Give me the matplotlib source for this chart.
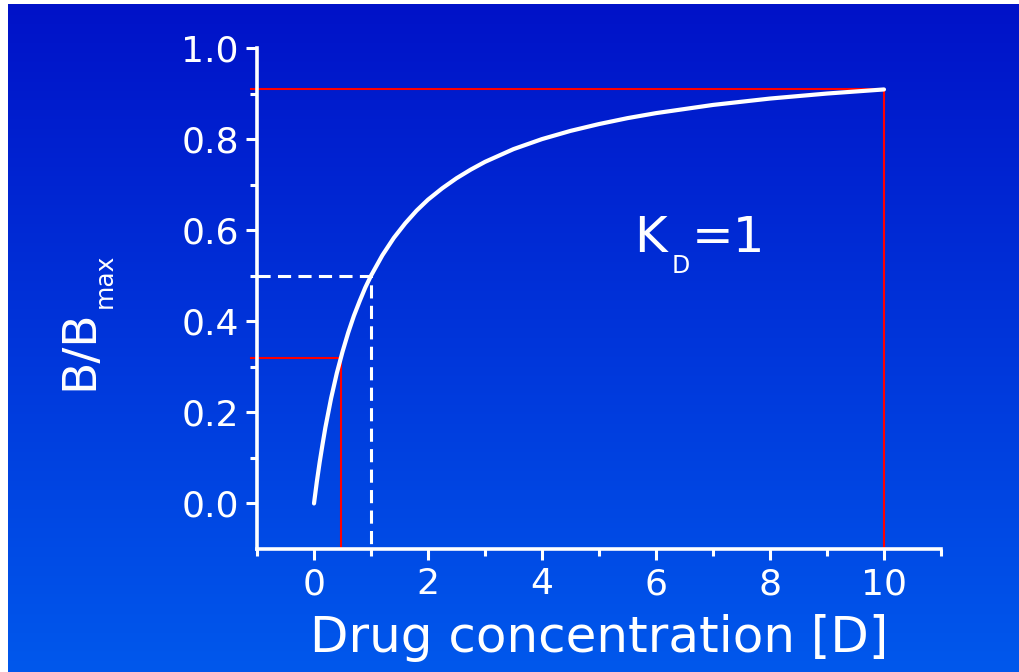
import numpy as np
from matplotlib import pyplot as plt
from matplotlib.ticker import FixedLocator

# binding curve
conc = [0, 0.05, 0.1, 0.15, 0.2, 0.3, 0.4, 0.5, 0.6, 0.7, 0.8, 0.9, 1.0,
        1.2, 1.4, 1.6, 1.8, 2.0, 2.25, 2.5, 2.75, 3.0, 3.5, 4.0, 4.5, 5.0,
        5.5, 6.0, 7.0, 8.0, 9.0, 10.0]
bound = [0, 0.048, 0.091, 0.13, 0.167, 0.231, 0.286, 0.333, 0.375, 0.412,
         0.444, 0.474, 0.5, 0.545, 0.583, 0.615, 0.643, 0.667, 0.692, 0.714,
         0.733, 0.75, 0.778, 0.8, 0.818, 0.833, 0.846, 0.857, 0.875, 0.889,
         0.9, 0.909]

# guide lines
red_low = (0.47, 0.32)
red_high = (10.0, 0.909)
kd_point = (1.0, 0.5)

x_ticks = [0, 2, 4, 6, 8, 10]
x_minor = [-1, 1, 3, 5, 7, 9, 11]
y_ticks = [0.0, 0.2, 0.4, 0.6, 0.8, 1.0]
y_minor = [0.1, 0.3, 0.5, 0.7, 0.9]

W, H = 1019, 672
fig = plt.figure(figsize=(W / 100, H / 100), dpi=100, facecolor='white')

# blue gradient background (white strip left and top)
bg = fig.add_axes([8 / W, 0, 1 - 8 / W, 1 - 4 / H])
top = np.array([0, 18, 200]) / 255
bot = np.array([0, 88, 236]) / 255
t = np.linspace(0, 1, 256)[:, None]
grad = top[None, None, :] * (1 - t[:, :, None]) + bot[None, None, :] * t[:, :, None]
bg.imshow(grad, aspect='auto', extent=[0, 1, 0, 1])
bg.set_axis_off()

ax = fig.add_axes([257 / W, (H - 549) / H, (941 - 257) / W, (549 - 48) / H])
ax.set_facecolor('none')
ax.set_xlim(-1, 11)
ax.set_ylim(-0.1, 1.0)

for s in ['top', 'right']:
    ax.spines[s].set_visible(False)
for s in ['left', 'bottom']:
    ax.spines[s].set_color('white')
    ax.spines[s].set_linewidth(2.6)
    ax.spines[s].set_capstyle('projecting')

ax.xaxis.set_major_locator(FixedLocator(x_ticks))
ax.xaxis.set_minor_locator(FixedLocator(x_minor))
ax.yaxis.set_major_locator(FixedLocator(y_ticks))
ax.yaxis.set_minor_locator(FixedLocator(y_minor))
ax.set_yticklabels([f'{v:.1f}' for v in y_ticks])
ax.tick_params(which='major', direction='out', length=8, width=2.2, color='white',
               labelcolor='white', labelsize=26, pad=5)
ax.tick_params(which='minor', direction='out', length=5, width=2.2, color='white')

# red guide lines
ax.plot([-1.1, red_low[0], red_low[0]], [red_low[1], red_low[1], -0.1],
        color='#ff0000', lw=1.5, clip_on=False, zorder=2)
ax.plot([-1.1, red_high[0], red_high[0]], [red_high[1], red_high[1], -0.1],
        color='#ff0000', lw=1.5, clip_on=False, zorder=2)

# dashed KD lines
ax.plot([-1, kd_point[0], kd_point[0]], [kd_point[1], kd_point[1], -0.1],
        color='white', lw=2.2, dashes=(4.3, 2.4), clip_on=False, zorder=3)

ax.plot(conc, bound, color='white', lw=3, solid_capstyle='round',
        solid_joinstyle='round', zorder=4)

# K_D = 1 annotation
ax.text(5.62, 0.551, 'K', color='white', fontsize=36, va='baseline', ha='left')
ax.text(6.27, 0.507, 'D', color='white', fontsize=17, va='baseline', ha='left')
ax.text(6.63, 0.551, '=1', color='white', fontsize=36, va='baseline', ha='left')

# axis labels
fig.text(599 / W, 1 - 652 / H, 'Drug concentration [D]', color='white',
         fontsize=36, ha='center', va='baseline')
fig.text(92 / W, 1 - 390 / H, 'B/B', color='white', fontsize=34, rotation=90,
         rotation_mode='anchor', ha='left', va='baseline')
fig.text(112 / W, 1 - 308 / H, 'max', color='white', fontsize=18, rotation=90,
         rotation_mode='anchor', ha='left', va='baseline')

fig.savefig('out.png', dpi=100, facecolor='white')
